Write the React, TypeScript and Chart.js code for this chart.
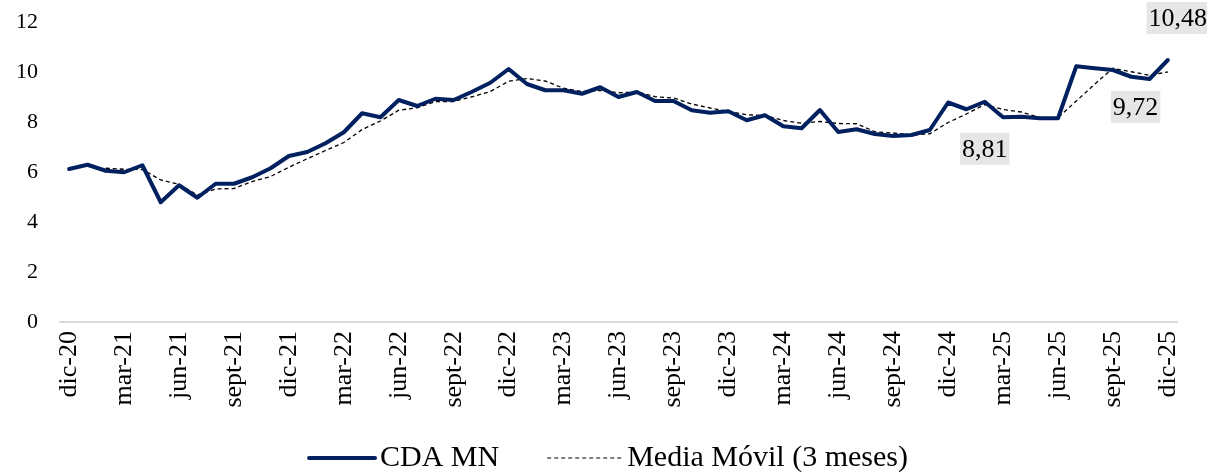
import React, { useEffect, useRef } from 'react';
import { Chart, registerables } from 'chart.js';

Chart.register(...registerables);

const CATEGORIES = [
  'dic-20',
  'ene-21', 'feb-21', 'mar-21', 'abr-21', 'may-21', 'jun-21', 'jul-21', 'ago-21', 'sept-21', 'oct-21', 'nov-21', 'dic-21',
  'ene-22', 'feb-22', 'mar-22', 'abr-22', 'may-22', 'jun-22', 'jul-22', 'ago-22', 'sept-22', 'oct-22', 'nov-22', 'dic-22',
  'ene-23', 'feb-23', 'mar-23', 'abr-23', 'may-23', 'jun-23', 'jul-23', 'ago-23', 'sept-23', 'oct-23', 'nov-23', 'dic-23',
  'ene-24', 'feb-24', 'mar-24', 'abr-24', 'may-24', 'jun-24', 'jul-24', 'ago-24', 'sept-24', 'oct-24', 'nov-24', 'dic-24',
  'ene-25', 'feb-25', 'mar-25', 'abr-25', 'may-25', 'jun-25', 'jul-25', 'ago-25', 'sept-25', 'oct-25', 'nov-25', 'dic-25',
];

const CDA_MN = [
  6.12,
  6.29, 6.05, 5.99, 6.27, 4.79, 5.47, 4.97, 5.53, 5.53, 5.79, 6.15, 6.64,
  6.80, 7.15, 7.59, 8.35, 8.19, 8.88, 8.64, 8.93, 8.88, 9.21, 9.57, 10.12,
  9.52, 9.27, 9.27, 9.13, 9.39, 9.00, 9.20, 8.84, 8.84, 8.47, 8.37, 8.43,
  8.07, 8.27, 7.83, 7.75, 8.48, 7.60, 7.71, 7.52, 7.44, 7.48, 7.68, 8.78,
  8.51, 8.81, 8.19, 8.21, 8.15, 8.15, 10.23, 10.15, 10.08, 9.81, 9.72, 10.48,
];

const MEDIA_MOVIL = [
  null,
  null, 6.15, 6.11, 6.10, 5.68, 5.51, 5.08, 5.32, 5.34, 5.62, 5.82, 6.19,
  6.53, 6.86, 7.18, 7.70, 8.04, 8.47, 8.57, 8.82, 8.82, 9.01, 9.22, 9.63,
  9.74, 9.64, 9.35, 9.22, 9.26, 9.17, 9.20, 9.01, 8.96, 8.72, 8.56, 8.42,
  8.29, 8.26, 8.06, 7.95, 8.02, 7.94, 7.93, 7.61, 7.56, 7.48, 7.53, 7.98,
  8.32, 8.70, 8.50, 8.40, 8.18, 8.17, 8.84, 9.51, 10.15, 10.01, 9.87, 10.00,
];

const Y_TICKS = [0, 2, 4, 6, 8, 10, 12];

const SERIES_NAMES = ['CDA MN', 'Media Móvil (3 meses)'];

// indices of CDA MN points that carry a value label
const LABELLED_POINTS = [50, 59, 60];

const FONT = "'Liberation Serif', 'Times New Roman', serif";

// label placement (pixel offsets from the point)
const LABEL_STYLE: Record<number, { dx: number; dy: number }> = {
  50: { dx: 0, dy: 47 },
  59: { dx: -14, dy: 28 },
  60: { dx: 10, dy: -42 },
};

const fmt = (v: number) => v.toFixed(2).replace('.', ',');

const valueLabelPlugin = {
  id: 'valueLabels',
  afterDatasetsDraw(chart: any) {
    const ctx = chart.ctx;
    const meta = chart.getDatasetMeta(0);
    ctx.save();
    ctx.font = `26px ${FONT}`;
    ctx.textAlign = 'center';
    ctx.textBaseline = 'middle';
    LABELLED_POINTS.forEach((idx) => {
      const el = meta.data[idx];
      if (!el) return;
      const st = LABEL_STYLE[idx];
      const cx = el.x + st.dx;
      const cy = el.y + st.dy;
      const text = fmt(CDA_MN[idx]);
      const w = ctx.measureText(text).width + 4;
      const h = 32;
      ctx.fillStyle = '#e6e6e6';
      ctx.fillRect(cx - w / 2, cy - h / 2, w, h);
      ctx.fillStyle = '#000000';
      ctx.fillText(text, cx, cy + 1);
    });
    ctx.restore();
  },
};

const customLegendPlugin = {
  id: 'customLegend',
  afterDraw(chart: any) {
    const ctx = chart.ctx;
    const width = chart.width;
    const y = 458;
    const lineLen = [66, 75];
    const gapText = 5;
    const itemGap = 48;
    ctx.save();
    ctx.font = `30px ${FONT}`;
    const tw = SERIES_NAMES.map((n) => ctx.measureText(n).width);
    const total = lineLen[0] + gapText + tw[0] + itemGap + lineLen[1] + gapText + tw[1];
    let x = width / 2 + 5 - total / 2;
    ctx.textBaseline = 'middle';
    ctx.textAlign = 'left';
    // item 1
    ctx.strokeStyle = '#002060';
    ctx.lineWidth = 4;
    ctx.setLineDash([]);
    ctx.lineCap = 'round';
    ctx.beginPath();
    ctx.moveTo(x, y);
    ctx.lineTo(x + lineLen[0], y);
    ctx.stroke();
    x += lineLen[0] + gapText;
    ctx.fillStyle = '#000000';
    ctx.fillText(SERIES_NAMES[0], x, y);
    x += tw[0] + itemGap;
    // item 2
    ctx.strokeStyle = '#000000';
    ctx.lineWidth = 1.2;
    ctx.lineCap = 'butt';
    ctx.setLineDash([4, 3]);
    ctx.beginPath();
    ctx.moveTo(x, y);
    ctx.lineTo(x + lineLen[1], y);
    ctx.stroke();
    ctx.setLineDash([]);
    x += lineLen[1] + gapText;
    ctx.fillText(SERIES_NAMES[1], x, y);
    ctx.restore();
  },
};

export default function App() {
  const canvasRef = useRef<HTMLCanvasElement | null>(null);

  useEffect(() => {
    if (!canvasRef.current) return;
    const chart = new Chart(canvasRef.current, {
      type: 'line',
      data: {
        labels: CATEGORIES,
        datasets: [
          {
            label: SERIES_NAMES[0],
            data: CDA_MN,
            borderColor: '#002060',
            backgroundColor: '#002060',
            borderWidth: 4,
            pointRadius: 0,
            tension: 0,
            borderJoinStyle: 'round',
            borderCapStyle: 'round',
          },
          {
            label: SERIES_NAMES[1],
            data: MEDIA_MOVIL,
            borderColor: '#000000',
            backgroundColor: '#000000',
            borderWidth: 1.3,
            borderDash: [4, 3],
            pointRadius: 0,
            tension: 0,
          },
        ],
      },
      options: {
        responsive: false,
        maintainAspectRatio: false,
        animation: false,
        layout: { padding: { top: 22, right: 30, bottom: 51, left: 0 } },
        plugins: {
          legend: { display: false },
          tooltip: { enabled: false },
          title: { display: false },
        },
        scales: {
          x: {
            type: 'category',
            offset: true,
            grid: { display: false, drawTicks: false },
            border: { display: true, color: '#d9d9d9', width: 2 },
            ticks: {
              autoSkip: false,
              maxRotation: 90,
              minRotation: 90,
              padding: 9,
              color: '#000000',
              font: { family: FONT, size: 26 },
              callback: (_v: any, i: number) => (i % 3 === 0 ? CATEGORIES[i] : ''),
            },
            afterFit: (scale: any) => {
              scale.height = 100;
              scale.paddingTop = 0;
              scale.paddingBottom = 0;
              scale.paddingLeft = 0;
              scale.paddingRight = 0;
            },
          },
          y: {
            min: 0,
            max: 12,
            grid: { display: false, drawTicks: false },
            border: { display: false },
            afterBuildTicks: (scale: any) => {
              scale.ticks = Y_TICKS.map((v) => ({ value: v }));
            },
            ticks: {
              padding: 22,
              color: '#000000',
              font: { family: FONT, size: 22 },
              callback: (v: any) => String(v),
            },
            afterFit: (scale: any) => {
              scale.width = 60;
              scale.paddingTop = 0;
              scale.paddingBottom = 0;
            },
          },
        },
      },
      plugins: [valueLabelPlugin, customLegendPlugin],
    });
    return () => chart.destroy();
  }, []);

  return (
    <div style={{ position: 'absolute', left: 0, top: 0, width: 1207, height: 473, background: '#ffffff' }}>
      <canvas ref={canvasRef} width={1207} height={473} style={{ display: 'block', width: 1207, height: 473 }} />
    </div>
  );
}
